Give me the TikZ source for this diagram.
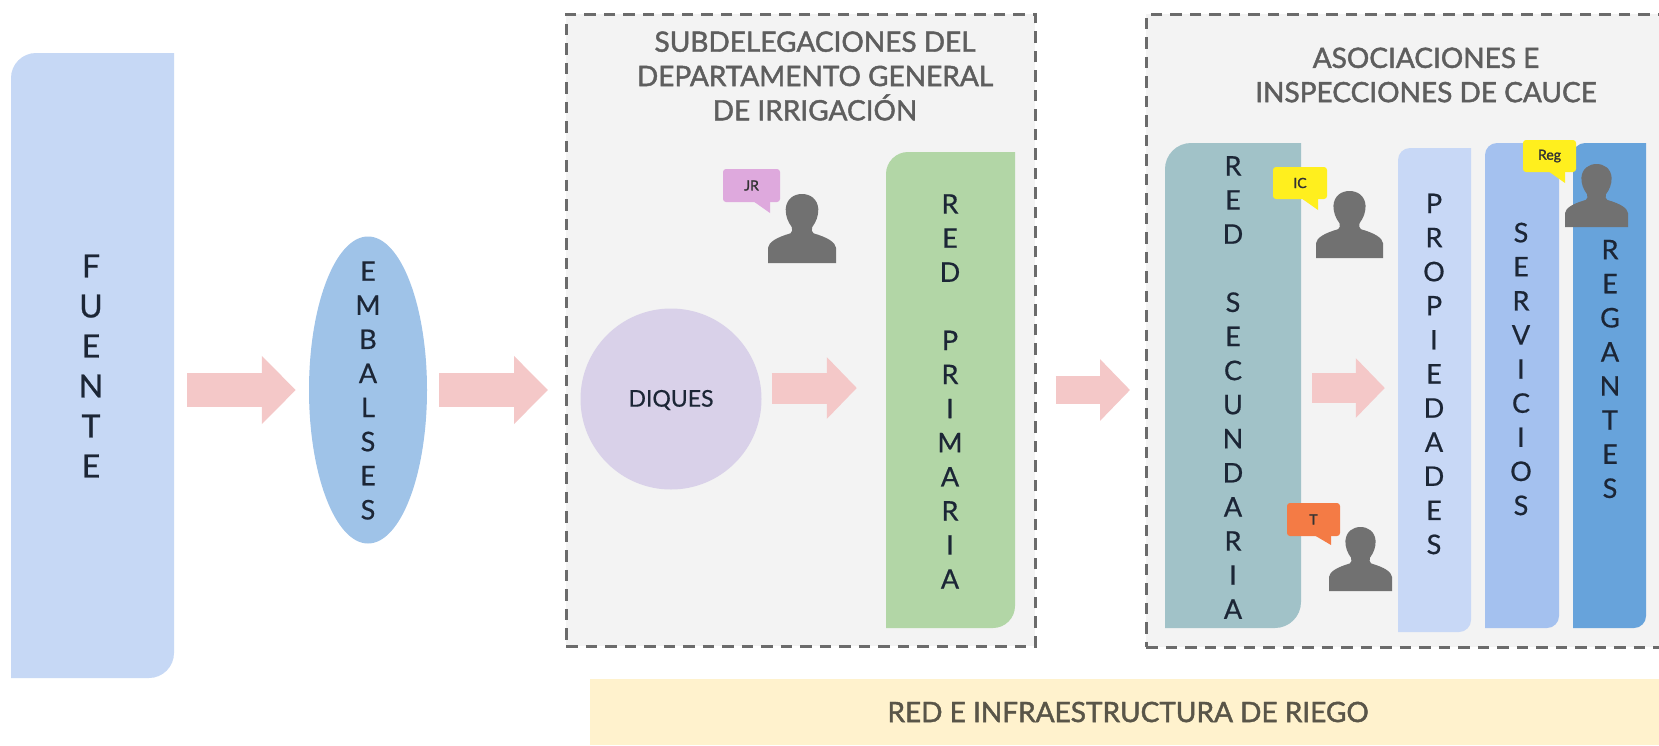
\documentclass[tikz,border=0pt]{standalone}
\usepackage{fontspec}
\setmainfont{Lato}
\newfontfamily\headfont[FakeBold=1.6]{Lato}
\newfontfamily\letterfont[FakeBold=0.6]{Lato}
\usetikzlibrary{arrows.meta,shapes.geometric}
\definecolor{cfuente}{HTML}{C6D8F5}
\definecolor{cemb}{HTML}{9FC3E8}
\definecolor{cdiq}{HTML}{D9D1E9}
\definecolor{cprim}{HTML}{B2D6A6}
\definecolor{csec}{HTML}{A1C2C8}
\definecolor{cprop}{HTML}{C8D8F6}
\definecolor{cserv}{HTML}{A4C1EF}
\definecolor{creg}{HTML}{67A3DB}
\definecolor{cgroup}{HTML}{F3F3F3}
\definecolor{cband}{HTML}{FFF2CD}
\definecolor{carrow}{HTML}{F4C8C8}
\definecolor{cperson}{HTML}{717171}
\definecolor{ctitle}{HTML}{5E5E5E}
\definecolor{cletter}{HTML}{1C2636}
\definecolor{cjr}{HTML}{DEA9DD}
\definecolor{cyel}{HTML}{FFEF1E}
\definecolor{cora}{HTML}{F47B45}
\tikzset{
  x=1pt,y=-1pt,
  groupbox/.style={draw=black!58,fill=cgroup,line width=2.8pt,dash pattern=on 11.5pt off 8pt,anchor=north west,inner sep=0pt},
  grouptitle/.style={font=\headfont\fontsize{28}{34.3}\selectfont,text=ctitle,align=center,inner sep=0pt},
  letters/.style={font=\letterfont\fontsize{27}{34.1}\selectfont,text=cletter,align=center,inner sep=0pt},
  blockarrow/.style={draw=carrow,line width=34pt,-{Triangle[length=34pt,width=66pt]}},
  bubblebox/.style={rounded corners=3pt,inner sep=0pt,font=\headfont\fontsize{14}{16}\selectfont,text=black!80},
  personshape/.style={fill=cperson},
}
% name, x1, y1, x2, y2, radius top-left & bottom-right, colour
\newcommand{\panelbox}[7]{%
  \fill[#7] (#2,#5) -- (#2,#3+#6) .. controls (#2,#3+.45*#6) and (#2+.45*#6,#3) .. (#2+#6,#3) -- (#4,#3) -- (#4,#5-#6) .. controls (#4,#5-.45*#6) and (#4-.45*#6,#5) .. (#4-#6,#5) -- cycle;
  \node[inner sep=0pt,minimum width=#4pt-#2pt,minimum height=#5pt-#3pt] (#1) at ({(#2+#4)/2},{(#3+#5)/2}) {};
}
% name, x1, y1, x2, y2, tip x, tip y, colour, text
\newcommand{\speech}[9]{%
  \fill[#8] (#6-17,#5-1) -- (#6,#7) -- (#6,#5-1) -- cycle;
  \node[bubblebox,fill=#8,minimum width=#4pt-#2pt,minimum height=#5pt-#3pt] (#1) at ({(#2+#4)/2},{(#3+#5)/2}) {#9};
}
% x1, y1, x2, y2
\newcommand{\personfig}[4]{%
  \begin{scope}[shift={(#1,#2)},xscale=#3-#1,yscale=#4-#2]
    \fill[personshape] (0,1) -- (0,.78) .. controls (.01,.7) and (.12,.63) .. (.33,.57)
      .. controls (.36,.55) and (.36,.52) .. (.35,.48) .. controls (.29,.4) and (.26,.32) .. (.26,.22)
      .. controls (.27,.07) and (.38,0) .. (.5,0) .. controls (.62,0) and (.73,.07) .. (.74,.22)
      .. controls (.74,.32) and (.71,.4) .. (.65,.48) .. controls (.64,.52) and (.64,.55) .. (.67,.57)
      .. controls (.88,.63) and (.99,.7) .. (1,.78) -- (1,1) -- cycle;
  \end{scope}
}
\begin{document}
\begin{tikzpicture}
\useasboundingbox (0,0) rectangle (1659,745);
\clip (0,0) rectangle (1659,745);
\fill[white] (0,0) rectangle (1659,745);

% group boxes and band
\node[groupbox,minimum width=469pt,minimum height=632pt] (subdel) at (565,13) {};
\node[groupbox,minimum width=530pt,minimum height=633pt] (asoc) at (1145,13) {};
\node[fill=cband,inner sep=0pt,minimum width=1080pt,minimum height=66pt,anchor=north west] (band) at (590,679) {};
\node[grouptitle,text=black!65!cband] (bandtext) at (1128,712) {RED E INFRAESTRUCTURA DE RIEGO};
\node[grouptitle] (subtitle) at (815,76) {SUBDELEGACIONES DEL\\DEPARTAMENTO GENERAL\\DE IRRIGACIÓN};
\node[grouptitle] (asoctitle) at (1426,75) {ASOCIACIONES E\\INSPECCIONES DE CAUCE};

% main shapes
\panelbox{fuente}{11}{53}{174}{678}{25}{cfuente}
\node[fill=cemb,ellipse,inner sep=0pt,minimum width=118pt,minimum height=307pt] (emb) at (368,390) {};
\node[fill=cdiq,circle,inner sep=0pt,minimum size=181pt] (diques) at (671,399) {};
\panelbox{prim}{886}{152}{1015}{628}{22}{cprim}
\panelbox{sec}{1165}{143}{1301}{628}{26}{csec}
\panelbox{prop}{1398}{148}{1471}{632}{12}{cprop}
\panelbox{serv}{1485}{143}{1559}{628}{12}{cserv}
\panelbox{reg}{1573}{143}{1646}{628}{12}{creg}

% letters
\node[letters,font=\letterfont\fontsize{32}{40}\selectfont] (fuentet) at (91,366) {F\\U\\E\\N\\T\\E};
\node[letters] (embt) at (368,390.5) {E\\M\\B\\A\\L\\S\\E\\S};
\node[letters,font=\letterfont\fontsize{23}{25}\selectfont] (diquest) at (671,400) {DIQUES};
\node[letters] (primt) at (950,391.5) {R\\E\\D\\[34.1pt]P\\R\\I\\M\\A\\R\\I\\A};
\node[letters] (sect) at (1233,387.5) {R\\E\\D\\[34.1pt]S\\E\\C\\U\\N\\D\\A\\R\\I\\A};
\node[letters] (propt) at (1434,374) {P\\R\\O\\P\\I\\E\\D\\A\\D\\E\\S};
\node[letters] (servt) at (1521,369) {S\\E\\R\\V\\I\\C\\I\\O\\S};
\node[letters] (regt) at (1610,369) {R\\E\\G\\A\\N\\T\\E\\S};

% block arrows
\draw[blockarrow,shorten <=13pt,shorten >=13pt] (fuente.east |- emb.west) -- (emb.west);
\draw[blockarrow,shorten <=12pt,shorten >=17pt] (emb.east) -- (emb.east -| subdel.west);
\draw[blockarrow,shorten <=10pt,shorten >=29pt,line width=31pt,-{Triangle[length=30pt,width=60pt]}] ([yshift=11pt]diques.east) -- ([yshift=11pt]diques.east -| prim.west);
\draw[blockarrow,shorten <=19pt,shorten >=15pt,line width=28pt,-{Triangle[length=30pt,width=60pt]}] (subdel.east |- emb.east) -- (emb.east -| asoc.west);
\draw[blockarrow,shorten <=11pt,shorten >=13pt,line width=30pt,-{Triangle[length=29pt,width=58pt]}] ([yshift=-2.5pt]sec.east) -- ([yshift=-2.5pt]sec.east -| prop.west);

% people
\personfig{768}{194}{836}{263}
\personfig{1316}{191}{1383}{258}
\personfig{1329}{527}{1392}{591}
\speech{jr}{723}{169}{780}{202}{770}{213}{cjr}{JR}
\speech{ic}{1273}{167}{1327}{199}{1318}{210}{cyel}{IC}
\speech{t}{1287}{503}{1340}{536}{1331}{545}{cora}{T}
\speech{rg}{1523}{140}{1576}{172}{1565}{183}{cyel}{Reg}
\personfig{1565}{164}{1628}{227}
\end{tikzpicture}
\end{document}
